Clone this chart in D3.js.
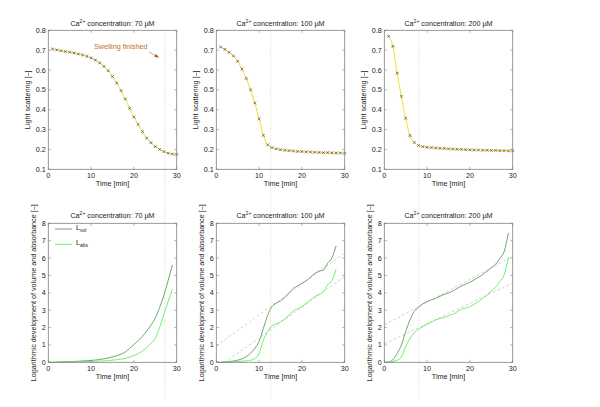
<!DOCTYPE html>
<html><head><meta charset="utf-8">
<script src="https://cdn.jsdelivr.net/npm/d3@7/dist/d3.min.js"></script>
<style>body{margin:0;background:#fff}svg{display:block}text{font-family:"Liberation Sans",Arial,sans-serif;fill:#222}</style>
</head><body><svg id="c" width="600" height="407"></svg>
<script>
// ---- data ----
const concentrations = ["70", "100", "200"];
const scatterTime = [1,2,3,4,5,6,7,8,9,10,11,12,13,14,15,16,17,18,19,20,21,22,23,24,25,26,27,28,29,30];
const scatter70  = [0.706,0.701,0.697,0.693,0.690,0.686,0.681,0.676,0.669,0.661,0.650,0.636,0.618,0.597,0.567,0.535,0.496,0.454,0.407,0.363,0.326,0.290,0.257,0.234,0.214,0.200,0.189,0.181,0.177,0.175];
const scatter100 = [0.716,0.704,0.689,0.671,0.644,0.605,0.558,0.500,0.434,0.354,0.271,0.223,0.209,0.203,0.199,0.196,0.194,0.192,0.190,0.189,0.188,0.187,0.186,0.185,0.184,0.184,0.183,0.182,0.182,0.181];
const scatter200 = [0.770,0.719,0.584,0.467,0.357,0.270,0.235,0.220,0.214,0.211,0.209,0.207,0.206,0.205,0.203,0.202,0.201,0.200,0.199,0.198,0.197,0.197,0.196,0.196,0.195,0.195,0.194,0.194,0.193,0.193];
const lTime = [0,1,2,3,4,5,6,7,8,9,10,11,12,13,14,15,16,17,18,19,20,21,22,23,24,25,26,27,28,29];
const lvol70  = [0,0.00,0.01,0.02,0.03,0.04,0.05,0.06,0.08,0.09,0.11,0.13,0.16,0.20,0.25,0.31,0.38,0.47,0.60,0.80,1.02,1.25,1.50,1.80,2.15,2.55,3.15,3.85,4.70,5.60];
const labs70  = [0,0.00,0.00,0.01,0.01,0.02,0.02,0.03,0.03,0.04,0.05,0.06,0.07,0.08,0.10,0.12,0.15,0.18,0.22,0.30,0.38,0.50,0.65,0.85,1.10,1.40,2.00,2.75,3.50,4.20];
const lvol100 = [0,0.00,0.02,0.04,0.07,0.12,0.20,0.33,0.52,0.80,1.20,1.95,2.70,3.20,3.40,3.53,3.72,4.00,4.25,4.40,4.55,4.70,4.90,5.10,5.25,5.30,5.70,6.00,6.70];
const labs100 = [0,0.00,0.01,0.02,0.03,0.04,0.06,0.09,0.12,0.20,0.52,1.28,1.77,2.10,2.20,2.34,2.50,2.72,2.95,3.08,3.20,3.40,3.60,3.78,3.90,4.05,4.45,4.70,5.35];
const lvol200 = [0,0.02,0.15,0.50,1.00,1.77,2.44,2.92,3.17,3.36,3.50,3.60,3.68,3.80,3.91,4.00,4.10,4.25,4.39,4.50,4.60,4.75,4.89,5.05,5.25,5.45,5.64,5.98,6.37,7.45];
const labs200 = [0,0.00,0.05,0.12,0.30,0.90,1.38,1.71,1.90,2.05,2.20,2.32,2.44,2.52,2.59,2.68,2.76,2.90,3.05,3.12,3.20,3.35,3.49,3.68,3.88,4.10,4.32,4.65,5.03,6.04];
const fitUpper = [null, [0.95, 0.178], [2.15, 0.131]]; // [intercept, slope]
const fitLower = [null, [-0.37, 0.177], [1.05, 0.117]];
const swellEnd = [27.2, 12.7, 8.1];
const xTicks = [0,10,20,30];
const yTicksTop = [0.1,0.2,0.3,0.4,0.5,0.6,0.7,0.8];
const yTicksBottom = [0,1,2,3,4,5,6,7,8];

const scatterData = [scatter70, scatter100, scatter200];
const lvolData = [lvol70, lvol100, lvol200];
const labsData = [labs70, labs100, labs200];

// ---- layout ----
const svg = d3.select("#c");
const panelLeft = [48.3, 216.3, 384.3], panelW = 128.4;
const rowTop = [30.3, 223.3], panelH = 139;
const axisCol = "#808080";

function drawAxes(g, x, y, yTicks, fmt, ylabel, ylabOff) {
  const [x0,x1] = x.range(), [y0,y1] = y.range();
  g.append("rect").attr("x",x0).attr("y",y1).attr("width",x1-x0).attr("height",y0-y1)
    .attr("fill","none").attr("stroke",axisCol).attr("stroke-width",0.8);
  const tl = 2.5;
  xTicks.forEach(t=>{
    g.append("line").attr("x1",x(t)).attr("x2",x(t)).attr("y1",y0).attr("y2",y0-tl).attr("stroke",axisCol).attr("stroke-width",0.6);
    g.append("line").attr("x1",x(t)).attr("x2",x(t)).attr("y1",y1).attr("y2",y1+tl).attr("stroke",axisCol).attr("stroke-width",0.6);
    g.append("text").attr("x",x(t)).attr("y",y0+8.8).attr("text-anchor","middle").attr("font-size",7.2).text(t);
  });
  yTicks.forEach(t=>{
    g.append("line").attr("x1",x0).attr("x2",x0+tl).attr("y1",y(t)).attr("y2",y(t)).attr("stroke",axisCol).attr("stroke-width",0.6);
    g.append("line").attr("x1",x1).attr("x2",x1-tl).attr("y1",y(t)).attr("y2",y(t)).attr("stroke",axisCol).attr("stroke-width",0.6);
    g.append("text").attr("x",x0-2.5).attr("y",y(t)+2.5).attr("text-anchor","end").attr("font-size",7.2).text(fmt(t));
  });
  g.append("text").attr("x",(x0+x1)/2).attr("y",y0+16.3).attr("text-anchor","middle").attr("font-size",7.2).text("Time [min]");
  g.append("text").attr("transform",`translate(${x0-ylabOff},${(y0+y1)/2}) rotate(-90)`)
    .attr("text-anchor","middle").attr("font-size",7.2).text(ylabel);
}
function title(g, cx, yb, conc) {
  const t = g.append("text").attr("x",cx).attr("y",yb).attr("text-anchor","middle").attr("font-size",7.2);
  t.append("tspan").text("Ca");
  t.append("tspan").attr("font-size",5).attr("dy",-3).text("2+");
  t.append("tspan").attr("dy",3).text(" concentration: " + conc + " \u00b5M");
}

// vertical dotted lines (swelling end) spanning both rows
const layerV = svg.append("g");

for (let i=0;i<3;i++){
  // top row
  const x = d3.scaleLinear().domain([0,30]).range([panelLeft[i], panelLeft[i]+panelW]);
  const yT = d3.scaleLinear().domain([0.1,0.8]).range([rowTop[0]+panelH, rowTop[0]]);
  const gT = svg.append("g");
  const pts = scatterTime.map((t,k)=>[t, scatterData[i][k]]);
  gT.append("path").attr("d", d3.line().x(d=>x(d[0])).y(d=>yT(d[1])).curve(d3.curveMonotoneX)(pts))
    .attr("fill","none").attr("stroke","#f7dc2a").attr("stroke-width",1);
  const s = 1.4;
  gT.selectAll("path.mk").data(pts).join("path").attr("class","mk")
    .attr("d", d=>{const cx=x(d[0]), cy=yT(d[1]); return `M${cx-s},${cy-s}L${cx+s},${cy+s}M${cx-s},${cy+s}L${cx+s},${cy-s}`;})
    .attr("stroke","#333").attr("stroke-width",0.6);
  drawAxes(gT, x, yT, yTicksTop, d3.format(".1f"), "Light scattering [\u2013]", 18);
  title(gT, panelLeft[i]+panelW/2, 25.5, concentrations[i]);

  // bottom row
  const yB = d3.scaleLinear().domain([0,8]).range([rowTop[1]+panelH, rowTop[1]]);
  const gB = svg.append("g");
  const clipId = "clip"+i;
  gB.append("clipPath").attr("id",clipId).append("rect").attr("x",x(0)).attr("y",yB(8)).attr("width",panelW).attr("height",panelH);
  [fitUpper[i], fitLower[i]].forEach(f=>{
    if(!f) return;
    gB.append("line").attr("clip-path",`url(#${clipId})`)
      .attr("x1",x(0)).attr("y1",yB(f[0])).attr("x2",x(30)).attr("y2",yB(f[0]+f[1]*30))
      .attr("stroke","#d6caca").attr("stroke-width",0.9).attr("stroke-dasharray","3,2");
  });
  const ln = d3.line().x((d,k)=>x(lTime[k])).y(d=>yB(d)).curve(d3.curveMonotoneX);
  gB.append("path").attr("d", ln(lvolData[i])).attr("fill","none").attr("stroke","#5e9c5e").attr("stroke-width",0.9);
  gB.append("path").attr("d", ln(labsData[i])).attr("fill","none").attr("stroke","#5cf05c").attr("stroke-width",0.9);
  drawAxes(gB, x, yB, yTicksBottom, d3.format("d"), "Logarithmic development of volume and absorbance [\u2013]", 12);
  title(gB, panelLeft[i]+panelW/2, 217.8, concentrations[i]);

  layerV.append("line").attr("x1",x(swellEnd[i])).attr("x2",x(swellEnd[i])).attr("y1",rowTop[0]).attr("y2",400)
    .attr("stroke","#dccdb4").attr("stroke-width",0.8).attr("stroke-dasharray","1,1.5");

  if (i===0) {
    // legend
    const lg = gB.append("g");
    [["vol","#5e9c5e",229],["abs","#5cf05c",244.3]].forEach(([sub,col,yy])=>{
      lg.append("line").attr("x1",55).attr("x2",72).attr("y1",yy).attr("y2",yy).attr("stroke",col).attr("stroke-width",0.9);
      const t = lg.append("text").attr("x",76).attr("y",yy+1).attr("font-size",7.2);
      t.append("tspan").text("L");
      t.append("tspan").attr("font-size",5).attr("dy",2).text(sub);
    });
    // annotation
    gT.append("text").attr("x",120.7).attr("y",49).attr("text-anchor","middle").attr("font-size",7.2)
      .style("fill","#c0701f").text("Swelling finished");
    gT.append("line").attr("x1",149).attr("y1",52).attr("x2",156).attr("y2",56).attr("stroke","#c0701f").attr("stroke-width",0.6);
    gT.append("path").attr("d","M159,57.8L154.3,56.7L156.0,53.9Z").attr("fill","#a0581a");
  }
}
</script></body></html>
